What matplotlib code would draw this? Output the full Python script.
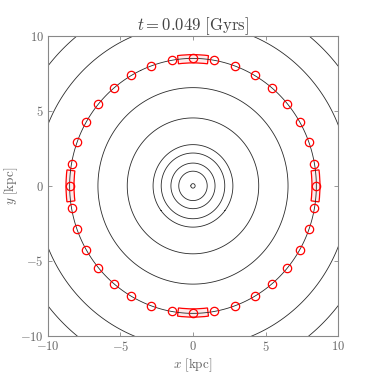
import numpy as np
import matplotlib
matplotlib.use("Agg")
import matplotlib.pyplot as plt
from matplotlib.patches import Wedge

# contour ring radii [kpc]
contour_radii = [0.15, 0.98, 1.52, 2.19, 2.75, 4.53, 6.55, 8.5, 10.8, 12.8]

# tracer particles on the ring
tracer_radius = 8.5
tracer_angles_deg = [0, 10, 20, 30, 40, 50, 60, 70, 80, 90, 100, 110,
                     120, 130, 140, 150, 160, 170, 180, 190, 200, 210, 220, 230,
                     240, 250, 260, 270, 280, 290, 300, 310, 320, 330, 340, 350]

# highlighted boxes (annulus sectors) around the ring
box_centres_deg = [0, 90, 180, 270]
box_half_width_deg = 7
box_r_inner = 8.2
box_r_outer = 8.75

ticks = [-10, -5, 0, 5, 10]
title = r"$t = 0.049\ \mathrm{[Gyrs]}$"

plt.rcParams["mathtext.fontset"] = "cm"
plt.rcParams["font.family"] = "serif"
plt.rcParams["font.serif"] = ["DejaVu Serif"]

fig = plt.figure(figsize=(3.74, 3.74), dpi=100)
ax = fig.add_axes([0.128, 0.102, 0.776, 0.802])

grid = np.linspace(-15, 15, 601)
X, Y = np.meshgrid(grid, grid)
R = np.hypot(X, Y)
ax.contour(X, Y, R, levels=contour_radii, colors="#2a2a2a", linewidths=0.6)

for c in box_centres_deg:
    ax.add_patch(Wedge((0, 0), box_r_outer, c - box_half_width_deg, c + box_half_width_deg,
                       width=box_r_outer - box_r_inner,
                       facecolor=(1, 0, 0, 0.08), edgecolor="red", linewidth=0.9))

ang = np.deg2rad(tracer_angles_deg)
ax.plot(tracer_radius * np.cos(ang), tracer_radius * np.sin(ang), "o",
        markersize=6, markerfacecolor="none", markeredgecolor="red",
        markeredgewidth=0.9)

ax.set_xlim(-10, 10)
ax.set_ylim(-10, 10)
ax.set_xticks(ticks)
ax.set_yticks(ticks)
ax.set_xticklabels([rf"${t}$" for t in ticks])
ax.set_yticklabels([rf"${t}$" for t in ticks])
ax.tick_params(direction="in", top=True, right=True, length=3, width=0.6,
               color="#888888", labelcolor="#666666", labelsize=9, pad=3)
for s in ax.spines.values():
    s.set_color("#888888")
    s.set_linewidth(0.8)

ax.set_xlabel(r"$x\ \mathrm{[kpc]}$", fontsize=9.5, color="#666666", labelpad=2)
ax.set_ylabel(r"$y\ \mathrm{[kpc]}$", fontsize=9.5, color="#666666", labelpad=0)
ax.set_title(title, fontsize=12, color="#444444", pad=4)

fig.savefig("out.png", dpi=100)
